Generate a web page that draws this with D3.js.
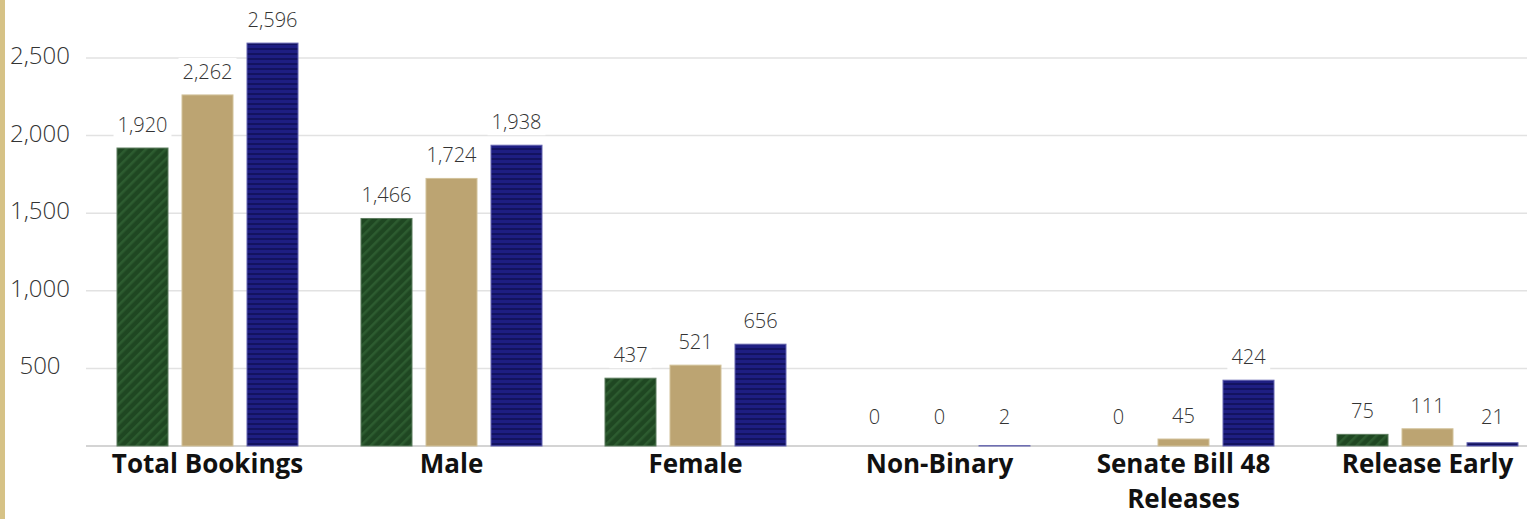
<!DOCTYPE html>
<html><head><meta charset="utf-8">
<script src="https://cdn.jsdelivr.net/npm/d3@7"></script>
<style>
html,body{margin:0;padding:0;background:#fff;overflow:hidden;}
svg{display:block;font-family:"Open Sans",sans-serif;}
</style></head>
<body><svg id="chart" width="1527" height="519"></svg>
<script>
const categories = ["Total Bookings","Male","Female","Non-Binary","Senate Bill 48 Releases","Release Early"];
const seriesNames = ["Series A","Series B","Series C"];
const seriesA = [1920,1466,437,0,0,75];
const seriesB = [2262,1724,521,0,45,111];
const seriesC = [2596,1938,656,2,424,21];
const yTicks = [500,1000,1500,2000,2500];

const seriesValues = [seriesA, seriesB, seriesC];
const fills = ["url(#pGreen)","#bca472","url(#pBlue)"];
const strokes = ["#5d7d5f","#d2c29a","#6464b0"];

const svg = d3.select("#chart");
const W = 1527, H = 519;
const defs = svg.append("defs");
const pg = defs.append("pattern").attr("id","pGreen").attr("patternUnits","userSpaceOnUse")
  .attr("width",7).attr("height",7).attr("patternTransform","rotate(45)");
pg.append("rect").attr("width",7).attr("height",7).attr("fill","#1f4722");
pg.append("rect").attr("width",2.5).attr("height",7).attr("fill","#2d5c30");
const pb = defs.append("pattern").attr("id","pBlue").attr("patternUnits","userSpaceOnUse")
  .attr("width",5).attr("height",5);
pb.append("rect").attr("width",5).attr("height",5).attr("fill","#1e1e82");
pb.append("rect").attr("y",3).attr("width",5).attr("height",2).attr("fill","#131360");

// gold border
svg.append("rect").attr("x",0).attr("y",0).attr("width",5).attr("height",H).attr("fill","#d6c286");

const x0 = d3.scaleBand().domain(categories).range([85.5,1549.5]).paddingInner(0).paddingOuter(0);
const x1 = d3.scaleBand().domain(seriesNames).range([31.5,212.5]).paddingInner(14/65).paddingOuter(0);
const y = d3.scaleLinear().domain([0,2500]).range([446,58]);

// gridlines
svg.append("g").selectAll("line").data([0].concat(yTicks)).join("line")
  .attr("x1",86).attr("x2",W).attr("y1",d=>y(d)).attr("y2",d=>y(d))
  .attr("stroke",d=>d===0?"#d4d4d4":"#e2e2e2").attr("stroke-width",d=>d===0?2:1.5);

// y tick labels
svg.append("g").selectAll("text").data(yTicks).join("text")
  .attr("x",40).attr("y",d=>y(d)+6).attr("text-anchor","middle")
  .attr("font-size",24).attr("font-weight",300).attr("fill","#333")
  .text(d=>d3.format(",")(d));

// bars
const groups = svg.append("g").selectAll("g").data(categories).join("g")
  .attr("transform",c=>`translate(${x0(c)},0)`);
groups.each(function(c,ci){
  const g = d3.select(this);
  seriesNames.forEach((s,si)=>{
    const v = seriesValues[si][ci];
    if (v > 0) {
      g.append("rect").attr("x",x1(s)).attr("width",x1.bandwidth())
        .attr("y",y(v)).attr("height",y(0)-y(v))
        .attr("fill",fills[si]).attr("stroke",strokes[si]).attr("stroke-width",1);
    }
  });
});

// data labels with white background
groups.each(function(c,ci){
  const g = d3.select(this);
  seriesNames.forEach((s,si)=>{
    const v = seriesValues[si][ci];
    const cy = Math.min(y(v)-23, 417);
    const t = g.append("text").attr("x",x1(s)+x1.bandwidth()/2).attr("y",cy+7)
      .attr("text-anchor","middle").attr("font-size",20).attr("font-weight",300)
      .attr("fill","#333").text(d3.format(",")(v));
    const bb = t.node().getBBox();
    g.insert("rect", function(){return t.node();})
      .attr("x",bb.x-4).attr("y",bb.y).attr("width",bb.width+8).attr("height",bb.height)
      .attr("fill","#fff");
  });
});

// category labels with wrapping
const lab = svg.append("g").selectAll("text").data(categories).join("text")
  .attr("x",c=>x0(c)+x0.bandwidth()/2).attr("y",473)
  .attr("text-anchor","middle").attr("font-size",26).attr("font-weight",700).attr("fill","#111");
lab.each(function(c){
  const t = d3.select(this);
  const words = c.split(" ");
  let line = [];
  let ts = t.append("tspan").attr("x",t.attr("x")).attr("dy",0);
  words.forEach(w=>{
    line.push(w);
    ts.text(line.join(" "));
    if (ts.node().getComputedTextLength() > 215 && line.length > 1) {
      line.pop(); ts.text(line.join(" "));
      line = [w];
      ts = t.append("tspan").attr("x",t.attr("x")).attr("dy",35).text(w);
    }
  });
});
</script></body></html>
